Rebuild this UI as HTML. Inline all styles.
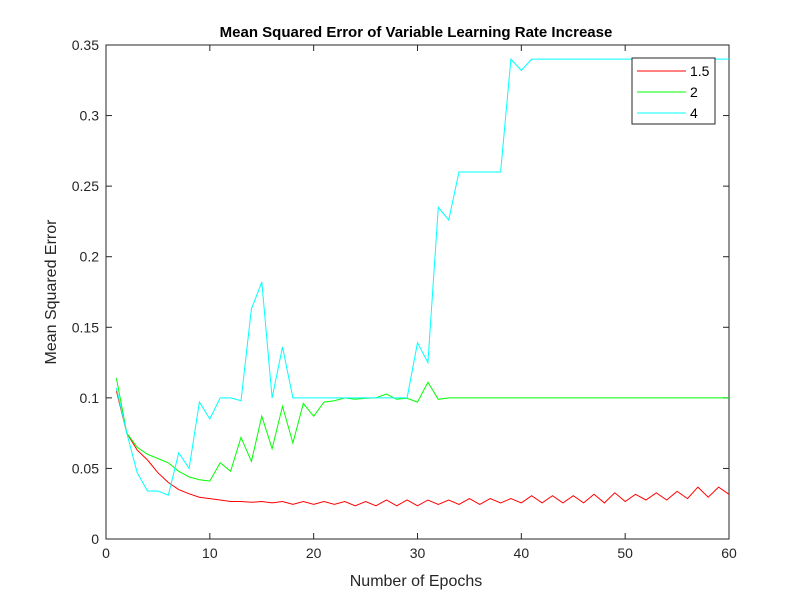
<!DOCTYPE html>
<html><head><meta charset="utf-8"><style>
body{margin:0;background:#fff;width:805px;height:606px;overflow:hidden}
svg{font-family:"Liberation Sans",Arial,sans-serif}
</style></head><body>
<svg id="chart" width="805" height="606">
<rect x="0" y="0" width="805" height="606" fill="#fff"/>
<text x="416" y="37" text-anchor="middle" font-weight="bold" font-size="15">Mean Squared Error of Variable Learning Rate Increase</text>
<g id="axes"></g>
<g id="series"></g>
<text x="416" y="586" text-anchor="middle" font-size="16" fill="#262626">Number of Epochs</text>
<text transform="translate(56,292) rotate(-90)" text-anchor="middle" font-size="16" fill="#262626">Mean Squared Error</text>
<g id="legend"></g>
</svg>
<script>
const epochs = Array.from({length:60},(_,i)=>i+1);
const seriesNames = ["1.5","2","4"];
const seriesColors = ["#ff0000","#00ff00","#00ffff"];
const red = [0.105,0.075,0.063,0.056,0.047,0.040,0.035,0.032,0.0296,0.0286,0.0276,0.0266,0.0266,0.026,0.0266,0.0256,0.0266,0.0245,0.0266,0.0245,0.0266,0.0245,0.0266,0.0235,0.0266,0.0235,0.0276,0.0235,0.0276,0.0235,0.0276,0.0245,0.0276,0.0245,0.0286,0.0245,0.0286,0.0256,0.0286,0.0256,0.0307,0.0256,0.0307,0.0256,0.0307,0.0256,0.0317,0.0256,0.0327,0.0266,0.0317,0.0276,0.0327,0.0276,0.0337,0.0286,0.0368,0.0296,0.0368,0.0317];
const green = [0.114,0.075,0.065,0.060,0.057,0.054,0.048,0.044,0.042,0.041,0.054,0.048,0.072,0.055,0.087,0.064,0.094,0.068,0.096,0.087,0.097,0.098,0.100,0.099,0.0997,0.100,0.1027,0.099,0.0997,0.097,0.111,0.099,0.100,0.100,0.100,0.100,0.100,0.100,0.100,0.100,0.100,0.100,0.100,0.100,0.100,0.100,0.100,0.100,0.100,0.100,0.100,0.100,0.100,0.100,0.100,0.100,0.100,0.100,0.100,0.100];
const cyan = [0.107,0.075,0.047,0.034,0.034,0.031,0.061,0.050,0.097,0.085,0.100,0.100,0.098,0.163,0.182,0.100,0.136,0.100,0.100,0.100,0.100,0.100,0.100,0.100,0.100,0.100,0.100,0.100,0.100,0.139,0.125,0.235,0.226,0.260,0.260,0.260,0.260,0.260,0.340,0.332,0.340,0.340,0.340,0.340,0.340,0.340,0.340,0.340,0.340,0.340,0.340,0.340,0.340,0.340,0.340,0.340,0.340,0.340,0.340,0.340];
const xTicks = [0,10,20,30,40,50,60];
const yTicks = [0,0.05,0.1,0.15,0.2,0.25,0.3,0.35];
const yTickLabels = ["0","0.05","0.1","0.15","0.2","0.25","0.3","0.35"];

const L=106,R=729,T=45,B=539;
const sx=v=>L+(v-0)/(60-0)*(R-L);
const sy=v=>B-(v-0)/(0.35-0)*(B-T);
const NS="http://www.w3.org/2000/svg";
function mk(tag,attrs,parent){const e=document.createElementNS(NS,tag);for(const k in attrs)e.setAttribute(k,attrs[k]);parent.appendChild(e);return e;}
const axes=document.getElementById('axes');
const frame=mk('rect',{x:L,y:T,width:R-L,height:B-T,fill:'none',stroke:'#262626','stroke-width':1},axes);


xTicks.forEach(v=>{
  const x=sx(v);
  const t1=mk('line',{x1:x,x2:x,y1:B,y2:B-6,stroke:'#262626'},axes);
  
  
  const t2=mk('line',{x1:x,x2:x,y1:T,y2:T+6,stroke:'#262626'},axes);
  
  
  const lb=mk('text',{x:x,y:B+19,'text-anchor':'middle','font-size':14,fill:'#262626'},axes);
  lb.textContent=String(v);
  
  
});
yTicks.forEach((v,i)=>{
  const y=sy(v);
  const t1=mk('line',{x1:L,x2:L+6,y1:y,y2:y,stroke:'#262626'},axes);
  
  
  const t2=mk('line',{x1:R,x2:R-6,y1:y,y2:y,stroke:'#262626'},axes);
  
  
  const lb=mk('text',{x:L-7,y:y+5,'text-anchor':'end','font-size':14,fill:'#262626'},axes);
  lb.textContent=yTickLabels[i];
  
  
});
const sg=document.getElementById('series');
[red,green,cyan].forEach((arr,si)=>{
  const pts=arr.map((v,i)=>sx(epochs[i]).toFixed(1)+','+sy(v).toFixed(1)).join(' ');
  const pl=mk('polyline',{points:pts,fill:'none',stroke:seriesColors[si],'stroke-width':1},sg);
  
  
});
const lg=document.getElementById('legend');
const box=mk('rect',{x:632,y:58,width:83,height:66,fill:'#fff',stroke:'#262626'},lg);


seriesNames.forEach((n,i)=>{
  const y=71+i*21;
  const ln=mk('line',{x1:637,x2:686,y1:y,y2:y,stroke:seriesColors[i]},lg);
  
  
  const tx=mk('text',{x:690,y:y+5,'font-size':14,fill:'#000'},lg);
  tx.textContent=n;
  
  
});
</script>
</body></html>
